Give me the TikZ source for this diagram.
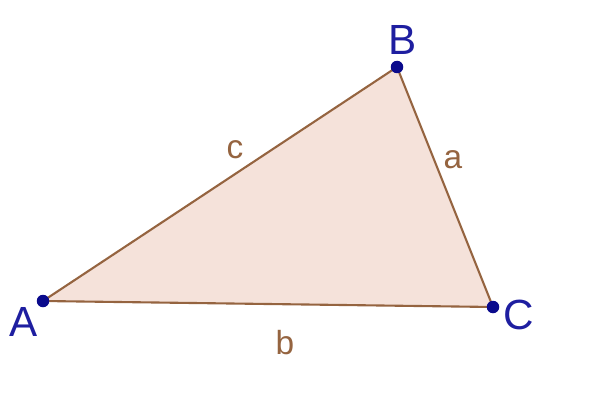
\documentclass[tikz,border=0pt]{standalone}
\usepackage{fontspec}
\setmainfont{Liberation Sans}
\usepackage{tikz}
\usetikzlibrary{positioning}
\definecolor{SideBrown}{HTML}{956440}
\definecolor{FaceRose}{HTML}{F5E2DA}
\definecolor{PointBlue}{HTML}{0A0A8C}
\definecolor{NameBlue}{HTML}{1E1EA0}
\tikzset{
  MyPoint/.style={
    circle, fill=PointBlue, inner sep=0pt, minimum size=2.5mm,
  },
  MyName/.style={
    text=NameBlue, font=\fontsize{24}{24}\selectfont, inner sep=0pt,
  },
  MySide/.style={
    text=SideBrown, font=\fontsize{19}{19}\selectfont, inner sep=0pt,
  },
}

\begin{document}
\begin{tikzpicture}
\useasboundingbox (0,0) rectangle (12.22,8.02);
\coordinate (A) at (0.86,2.0);
\coordinate (B) at (7.94,6.68);
\coordinate (C) at (9.86,1.88);
\fill[FaceRose] (A) -- (B) -- (C) -- cycle;
\draw[SideBrown, line width=1.2pt] (A) to (B);
\draw[SideBrown, line width=1.2pt] (B) to (C);
\draw[SideBrown, line width=1.2pt] (C) to (A);
\node[MyPoint] (PA) at (A) {};
\node[MyPoint] (PB) at (B) {};
\node[MyPoint] (PC) at (C) {};
\node[MyName] (NA) at (0.48,1.58) {A};
\node[MyName] (NB) at (8.06,7.22) {B};
\node[MyName] (NC) at (10.38,1.72) {C};
\node[MySide] (Sc) at (4.70,5.02) {c};
\node[MySide] (Sa) at (9.06,4.82) {a};
\node[MySide] (Sb) at (5.70,1.16) {b};
\end{tikzpicture}
\end{document}
